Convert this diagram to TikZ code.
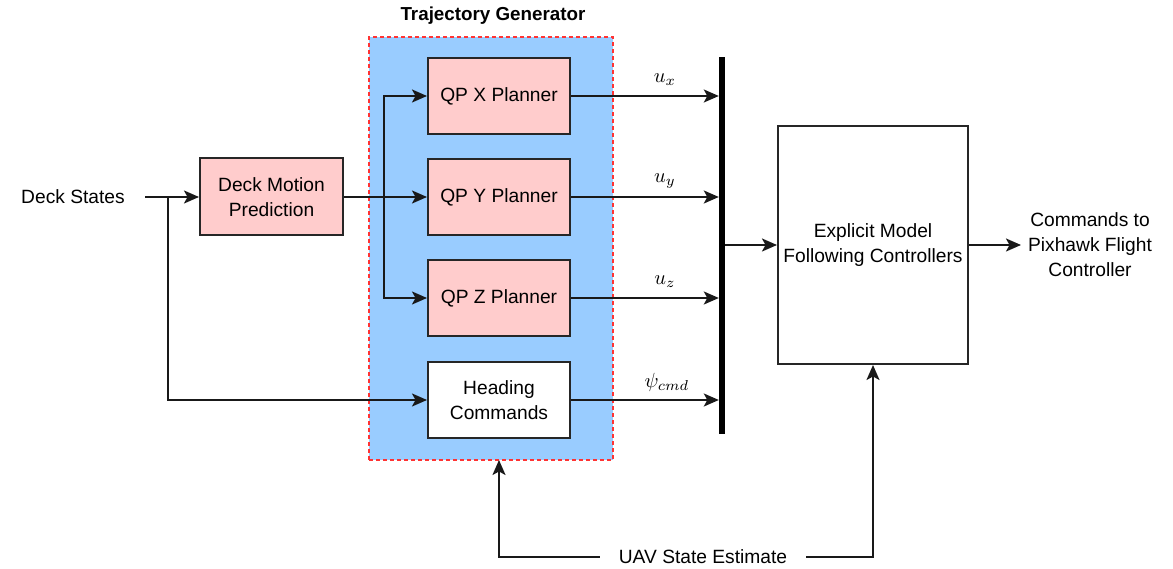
\documentclass[tikz,border=0pt]{standalone}
\usepackage{fontspec}
\setmainfont{Liberation Sans}
\usetikzlibrary{arrows.meta,calc}
\definecolor{tgblue}{HTML}{99CCFF}
\definecolor{boxpink}{HTML}{FFCCCC}
\definecolor{dashred}{HTML}{FF3333}
\newcommand{\biglbl}[1]{\scalebox{2.05}{$#1$}}
\begin{document}
\begin{tikzpicture}[x=1pt,y=-1pt,
  every node/.style={font=\fontsize{19.2}{25}\selectfont},
  blk/.style={draw=black!85,line width=2pt,minimum width=142pt,minimum height=76pt,align=center,inner sep=2pt},
  pinkblk/.style={blk,fill=boxpink},
  conn/.style={line width=2pt,draw=black!90},
  arr/.style={conn,-{Stealth[length=15pt,width=13pt,inset=3.5pt]}},
  lbl/.style={font=\normalsize,inner sep=1pt}]
\useasboundingbox (0,0) rectangle (1173,569);
% trajectory generator container
\node[draw=dashred,fill=tgblue,dash pattern=on 4pt off 3pt,line width=2pt,
      minimum width=244pt,minimum height=423pt,inner sep=0pt] (tg) at (491,248.5) {};
\node[font=\fontsize{18.8}{22}\selectfont\bfseries] (tgt) at (493,16) {Trajectory Generator};
% blocks
\node (ds) at (73,197) {Deck States};
\node[pinkblk,minimum width=143pt,minimum height=77pt] (dm) at (271.5,197) {Deck Motion\\Prediction};
\node[pinkblk] (qx) at (499,96) {QP X Planner};
\node[pinkblk] (qy) at (499,197) {QP Y Planner};
\node[pinkblk] (qz) at (499,298) {QP Z Planner};
\node[blk,fill=white] (hc) at (499,400) {Heading\\Commands};
\node[fill=black,minimum width=6pt,minimum height=377pt,inner sep=0pt] (bar) at (722,245.5) {};
\node[blk,fill=white,minimum width=190pt,minimum height=238pt] (emf) at (873,245) {Explicit Model\\Following Controllers};
\node[align=center] (cmd) at (1090,245) {Commands to\\Pixhawk Flight\\Controller};
\node[inner xsep=19pt] (uav) at (703,557) {UAV State Estimate};
% coordinates
\coordinate (dsout) at (145,197);
\coordinate (j1) at (168,197);
\coordinate (br) at (384,197);
\coordinate (tgin) at (499,460);
% connectors
\draw[arr] (dsout) -- (dm.west);
\draw[arr] (j1) |- (hc.west);
\draw[arr] (dm.east) -- (qy.west);
\draw[arr] (br) |- (qx.west);
\draw[arr] (br) |- (qz.west);
\draw[arr] (qx.east) -- (qx.east -| bar.west) node[lbl,midway,above=8pt,xshift=20pt] {\biglbl{u_x}};
\draw[arr] (qy.east) -- (qy.east -| bar.west) node[lbl,midway,above=7pt,xshift=20pt] {\biglbl{u_y}};
\draw[arr] (qz.east) -- (qz.east -| bar.west) node[lbl,midway,above=8pt,xshift=20pt] {\biglbl{u_z}};
\draw[arr] (hc.east) -- (hc.east -| bar.west) node[lbl,midway,above=7pt,xshift=22pt] {\biglbl{\psi_{cmd}}};
\draw[arr] (bar.east |- emf.west) -- (emf.west);
\draw[arr] (emf.east) -- ++(52,0);
\draw[arr] (uav.west) -| (tgin);
\draw[arr] (uav.east) -| (emf.south);
\end{tikzpicture}
\end{document}
